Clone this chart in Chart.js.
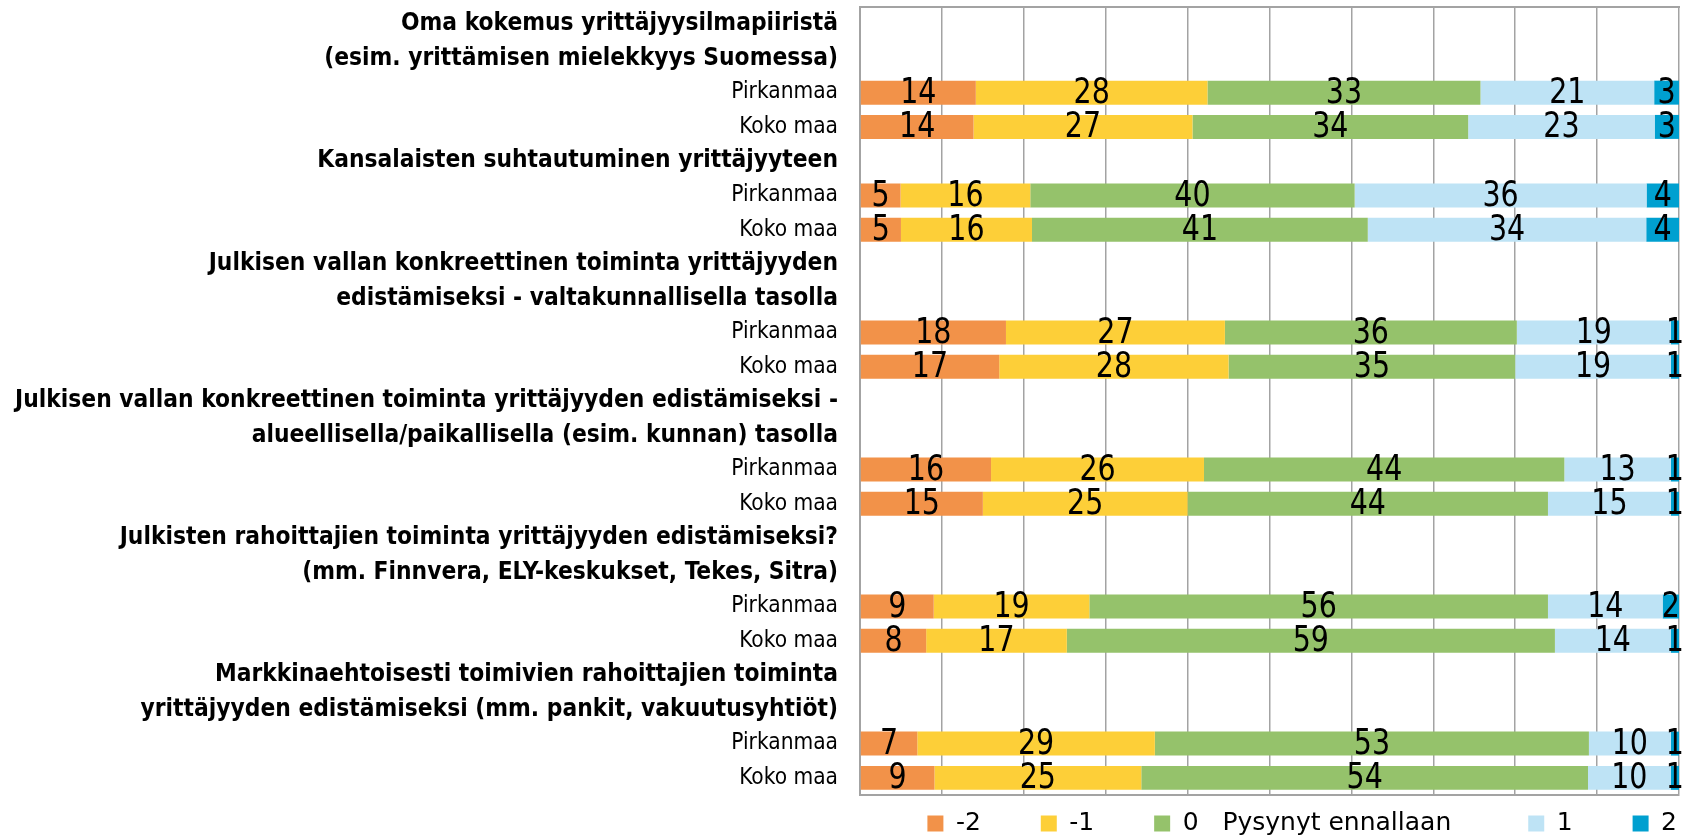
<!DOCTYPE html>
<html>
<head>
<meta charset="utf-8">
<script src="https://cdn.jsdelivr.net/npm/chart.js@4.4.1/dist/chart.umd.min.js"></script>
<style>
  html, body { margin: 0; padding: 0; background: #ffffff; }
  #wrap { width: 1685px; height: 838px; position: relative; }
</style>
</head>
<body>
<div id="wrap"><canvas id="c" width="1685" height="838"></canvas></div>
<script>
// ---- Data ----
const groupTitles = [
  ["Oma kokemus yrittäjyysilmapiiristä", "(esim. yrittämisen mielekkyys Suomessa)"],
  ["Kansalaisten suhtautuminen yrittäjyyteen"],
  ["Julkisen vallan konkreettinen toiminta yrittäjyyden", "edistämiseksi - valtakunnallisella tasolla"],
  ["Julkisen vallan konkreettinen toiminta yrittäjyyden edistämiseksi -", "alueellisella/paikallisella (esim. kunnan) tasolla"],
  ["Julkisten rahoittajien toiminta yrittäjyyden edistämiseksi?", "(mm. Finnvera, ELY-keskukset, Tekes, Sitra)"],
  ["Markkinaehtoisesti toimivien rahoittajien toiminta", "yrittäjyyden edistämiseksi (mm. pankit, vakuutusyhtiöt)"]
];
const regions = ["Pirkanmaa", "Koko maa"];
const seriesNames = ["-2", "-1", "0   Pysynyt ennallaan", "1", "2"];

// one value per bar row: group1 Pirkanmaa, group1 Koko maa, group2 Pirkanmaa, ...
const neg2 = [14, 14, 5, 5, 18, 17, 16, 15, 9, 8, 7, 9];
const neg1 = [28, 27, 16, 16, 27, 28, 26, 25, 19, 17, 29, 25];
const zero = [33, 34, 40, 41, 36, 35, 44, 44, 56, 59, 53, 54];
const pos1 = [21, 23, 36, 34, 19, 19, 13, 15, 14, 14, 10, 10];
const pos2 = [3, 3, 4, 4, 1, 1, 1, 1, 2, 1, 1, 1];

const colors = ["#F29249", "#FDCF38", "#95C26B", "#BEE3F5", "#00A0D0"];

// ---- Build category rows (header lines + region rows) ----
const labels = [];
const isHeader = [];
const rowIndex = [];   // index into the value arrays, or null for header rows
let k = 0;
groupTitles.forEach(lines => {
  lines.forEach(t => { labels.push(t); isHeader.push(true); rowIndex.push(null); });
  regions.forEach(r => { labels.push(r); isHeader.push(false); rowIndex.push(k); k++; });
});

const allSeries = [neg2, neg1, zero, pos1, pos2];
const totals = neg2.map((_, i) => allSeries.reduce((s, arr) => s + arr[i], 0));

const datasets = allSeries.map((arr, si) => ({
  label: seriesNames[si],
  backgroundColor: colors[si],
  borderWidth: 0,
  rawValues: rowIndex.map(ri => ri === null ? null : arr[ri]),
  data: rowIndex.map(ri => ri === null ? null : arr[ri] / totals[ri] * 100),
  barPercentage: 0.70,
  categoryPercentage: 1.0
}));

const FONT = "'DejaVu Sans Condensed', 'Liberation Sans Narrow', 'DejaVu Sans', sans-serif";
const LEGEND_FONT = "'DejaVu Sans', 'Liberation Sans', sans-serif";
// spacing after each legend entry (em spaces + normal spaces)
const legendGaps = ['\u2003\u2003 ', '\u2003\u2003 ', '\u2003\u2003\u2003', '\u2003\u2003 ', ''];

// ---- value labels inside segments ----
const valueLabels = {
  id: 'valueLabels',
  afterDatasetsDraw(chart) {
    const ctx = chart.ctx;
    chart.data.datasets.forEach((ds, di) => {
      const meta = chart.getDatasetMeta(di);
      meta.data.forEach((el, j) => {
        const v = ds.rawValues[j];
        if (v === null || v === undefined) return;
        const p = el.getProps(['x', 'y', 'base'], true);
        ctx.save();
        ctx.translate((p.x + p.base) / 2, p.y + 1);
        ctx.scale(0.88, 1);
        ctx.font = "36px " + FONT;
        ctx.fillStyle = "#000000";
        ctx.textAlign = "center";
        ctx.textBaseline = "middle";
        ctx.fillText(String(v), 0, 0);
        ctx.restore();
      });
    });
  }
};

new Chart(document.getElementById('c'), {
  type: 'bar',
  data: { labels: labels, datasets: datasets },
  plugins: [valueLabels],
  options: {
    indexAxis: 'y',
    responsive: false,
    animation: false,
    layout: { padding: { top: 7, right: 6, bottom: -8, left: 0 } },
    scales: {
      x: {
        stacked: true,
        min: 0, max: 100,
        position: 'bottom',
        ticks: { display: false, stepSize: 10 },
        grid: { color: '#A3A3A3', lineWidth: 1.5, drawTicks: false },
        border: { color: '#A3A3A3', width: 2 },
        afterFit: s => { s.height = 14; }
      },
      x2: {
        type: 'linear',
        min: 0, max: 100,
        position: 'top',
        ticks: { display: false },
        grid: { display: false, drawTicks: false },
        border: { color: '#A3A3A3', width: 2 },
        afterFit: s => { s.height = 0; }
      },
      y: {
        stacked: true,
        grid: { display: false, drawTicks: false },
        border: { color: '#A3A3A3', width: 2 },
        ticks: {
          autoSkip: false,
          padding: 22,
          color: '#000000',
          font: (c) => isHeader[c.index]
            ? { family: FONT, size: 24.3, weight: 'bold' }
            : { family: FONT, size: 22.5, weight: 'normal' }
        },
        afterFit: s => { s.width = 860; s.paddingTop = 0; s.paddingBottom = 0; }
      }
    },
    plugins: {
      tooltip: { enabled: false },
      legend: {
        position: 'bottom',
        align: 'end',
        fullSize: false,
        labels: {
          boxWidth: 16,
          boxHeight: 16,
          padding: 2,
          color: '#000000',
          font: { family: LEGEND_FONT, size: 25 },
          generateLabels: (chart) => {
            const items = Chart.defaults.plugins.legend.labels.generateLabels(chart);
            items.forEach((it, i) => {
              it.lineWidth = 0;
              it.text = it.text + legendGaps[i];
            });
            return items;
          }
        }
      }
    }
  }
});
</script>
</body>
</html>
